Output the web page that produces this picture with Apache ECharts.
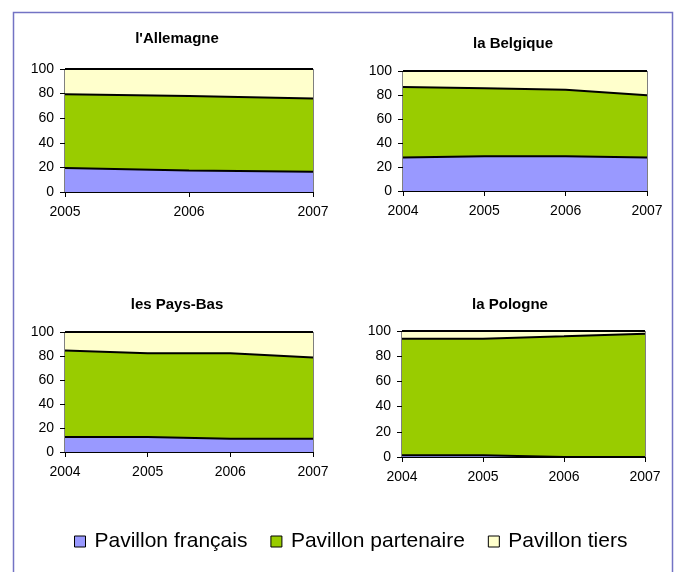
<!DOCTYPE html>
<html>
<head>
<meta charset="utf-8">
<script src="https://cdn.jsdelivr.net/npm/echarts@6/dist/echarts.min.js"></script>
<style>
  html, body { margin: 0; padding: 0; background: #fff; }
  #main { width: 676px; height: 572px; }
</style>
</head>
<body>
<div id="main"></div>
<script>
// categories
const yearsDE = ['2005', '2006', '2007'];
const yearsOther = ['2004', '2005', '2006', '2007'];
const seriesNames = ['Pavillon français', 'Pavillon partenaire', 'Pavillon tiers'];
const countryTitles = ["l'Allemagne", 'la Belgique', 'les Pays-Bas', 'la Pologne'];

// parts (%)
const allemagneFr = [19.5, 17.5, 16.5];
const allemagnePart = [60, 60.5, 59.5];
const allemagneTiers = [20.5, 22, 24];

const belgiqueFr = [28, 29, 29, 28];
const belgiquePart = [58.7, 56.6, 55.4, 51.7];
const belgiqueTiers = [13.3, 14.4, 15.6, 20.3];

const paysBasFr = [12.4, 12.4, 11, 11];
const paysBasPart = [72.1, 69.9, 71.3, 67.7];
const paysBasTiers = [15.5, 17.7, 17.7, 21.3];

const pologneFr = [1.3, 1.3, 0, 0];
const polognePart = [92.6, 92.6, 95.8, 97.9];
const pologneTiers = [6.1, 6.1, 4.2, 2.1];

const yTicks = [0, 20, 40, 60, 80, 100];

const font = 'Liberation Sans, Arial, sans-serif';
const colors = ['#9999FF', '#99CC00', '#FFFFCC'];

const grids = [
    {left: 65, top: 69, width: 248, height: 123},
    {left: 403, top: 71, width: 244, height: 120},
    {left: 65, top: 332, width: 248, height: 120},
    {left: 402, top: 331, width: 243, height: 126}
];
const titlePos = [[177, 31], [513, 36], [177, 297], [510, 297]];
const cats = [yearsDE, yearsOther, yearsOther, yearsOther];
const values = [
    [allemagneFr, allemagnePart, allemagneTiers],
    [belgiqueFr, belgiquePart, belgiqueTiers],
    [paysBasFr, paysBasPart, paysBasTiers],
    [pologneFr, polognePart, pologneTiers]
];

const chart = echarts.init(document.getElementById('main'));

const xAxis = cats.map((c, i) => ({
    type: 'category',
    gridIndex: i,
    data: c,
    boundaryGap: false,
    axisLine: {lineStyle: {color: '#000', width: 1}},
    axisTick: {length: 5, lineStyle: {color: '#000'}},
    axisLabel: {color: '#000', fontSize: 14, fontFamily: font, margin: 13}
}));

const yAxis = grids.map((g, i) => ({
    type: 'value',
    gridIndex: i,
    min: yTicks[0],
    max: yTicks[yTicks.length - 1],
    interval: 20,
    splitLine: {show: false},
    axisLine: {show: true, lineStyle: {color: '#000', width: 1}},
    axisTick: {show: true, length: 5, lineStyle: {color: '#000'}},
    axisLabel: {color: '#000', fontSize: 14, fontFamily: font, margin: 11}
}));

const series = [];
values.forEach((set, i) => {
    set.forEach((d, k) => {
        series.push({
            name: seriesNames[k],
            type: 'line',
            xAxisIndex: i,
            yAxisIndex: i,
            stack: 'c' + i,
            data: d,
            color: colors[k],
            symbol: 'none',
            silent: true,
            lineStyle: {color: '#000', width: 2},
            areaStyle: {color: colors[k], opacity: 1}
        });
    });
});

chart.setOption({
    animation: false,
    title: countryTitles.map((t, i) => ({
        text: t,
        left: titlePos[i][0],
        top: titlePos[i][1],
        textAlign: 'center',
        padding: 0,
        textStyle: {fontSize: 15, fontWeight: 'bold', color: '#000', fontFamily: font}
    })),
    grid: grids.map(g => Object.assign({show: true, borderColor: '#000', borderWidth: 1, backgroundColor: 'transparent'}, g)),
    xAxis: xAxis,
    yAxis: yAxis,
    legend: {
        data: seriesNames,
        left: 74,
        top: 531,
        padding: 0,
        icon: 'rect',
        itemWidth: 11,
        itemHeight: 11,
        itemGap: 23,
        itemStyle: {borderColor: '#000', borderWidth: 1},
        textStyle: {fontSize: 21, color: '#000', fontFamily: font, padding: [0, 0, 0, 4]}
    },
    graphic: [{
        type: 'polyline',
        shape: {points: [[13.5, 572], [13.5, 12.5], [672.5, 12.5], [672.5, 572]]},
        style: {stroke: '#7373C4', lineWidth: 1.5, fill: null},
        silent: true
    }],
    series: series
});
</script>
</body>
</html>
